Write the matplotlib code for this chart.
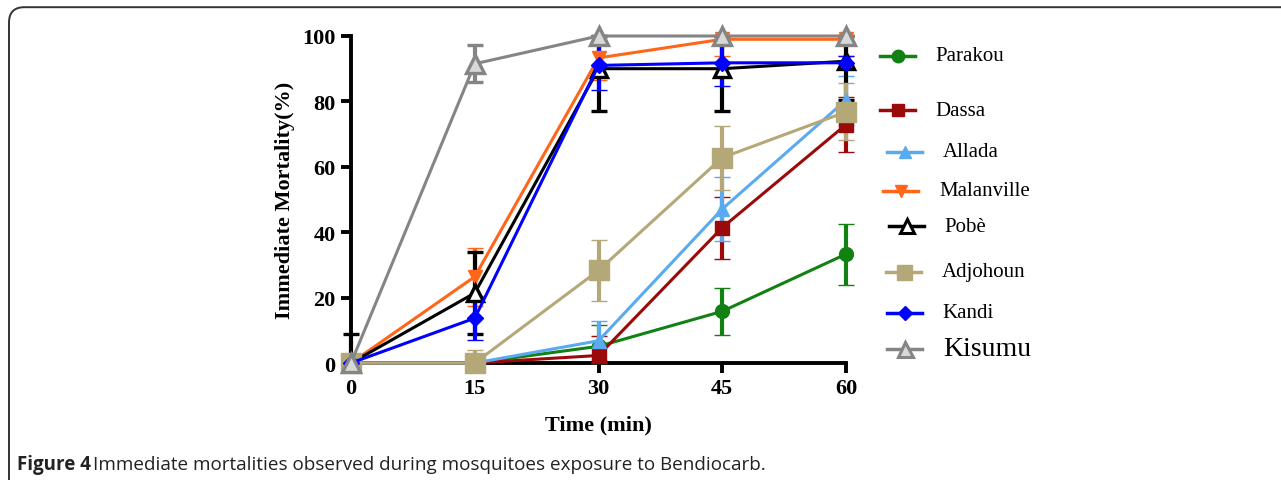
import numpy as np
import matplotlib.pyplot as plt
from matplotlib.patches import FancyBboxPatch
from matplotlib.lines import Line2D

# -------------------------------------------------
# Data
# -------------------------------------------------
times = [0, 15, 30, 45, 60]
sites = ["Parakou", "Dassa", "Allada", "Malanville", "Pobè", "Adjohoun", "Kandi", "Kisumu"]

parakou = [0, 0, 5.1, 15.8, 33.3]
parakou_err = [0, 0, 6.5, 7.2, 9.3]
dassa = [0, 0, 2.3, 41.4, 72.9]
dassa_err = [0, 0, 6.0, 9.5, 8.4]
allada = [0, 0, 6.8, 47.1, 80.4]
allada_err = [0, 0, 6.0, 9.7, 7.5]
malanville = [0, 26.4, 93.3, 99.0, 99.0]
malanville_err = [0, 8.9, 6.8, 5.0, 5.0]
pobe = [0, 21.4, 90.0, 90.0, 92.3]
pobe_err = [9.0, 12.6, 13.0, 13.0, 12.0]
adjohoun = [0, 0, 28.3, 62.8, 76.8]
adjohoun_err = [0, 4.0, 9.3, 9.8, 8.7]
kandi = [0, 13.7, 91.0, 91.8, 91.8]
kandi_err = [0, 6.7, 7.5, 7.0, 2.0]
kisumu = [0, 91.5, 100, 100, 100]
kisumu_err = [0, 5.7, 0, 0, 0]

series = [
    (parakou, parakou_err),
    (dassa, dassa_err),
    (allada, allada_err),
    (malanville, malanville_err),
    (pobe, pobe_err),
    (adjohoun, adjohoun_err),
    (kandi, kandi_err),
    (kisumu, kisumu_err),
]

# style per site: color, marker, marker size, face color
styles = [
    ("#138013", "o", 10, None),
    ("#9b0a0a", "s", 10, None),
    ("#5aaaf0", "^", 10, None),
    ("#ff6619", "v", 10, None),
    ("#000000", "^", 11, "white"),
    ("#b4a878", "s", 15, None),
    ("#0000ff", "D", 8, None),
    ("#858585", "^", 13, "#d8d8d8"),
]

# legend placement (pixels): handle start x, text x, row y
leg_hx = [880, 880, 887, 883, 889, 886, 887, 887]
leg_tx = [935, 935, 943, 939, 944, 942, 942, 943]
leg_y = [57, 111, 153, 192, 227, 273, 314, 350]

plt.rcParams["font.family"] = ["Liberation Serif", "DejaVu Serif"]

fig = plt.figure(figsize=(12.81, 4.81), dpi=100)

# rounded frame of the figure panel
frame = FancyBboxPatch(
    (9 / 1281, -0.2), 1.2, (469 + 100) / 481,
    boxstyle="round,pad=0,rounding_size=0.012",
    transform=fig.transFigure, fill=False, ec="#333333", lw=1.4,
    mutation_aspect=1281 / 481,
)
fig.patches.append(frame)

ax = fig.add_axes([351 / 1281, 1 - 364 / 481, (846 - 351) / 1281, (364 - 37) / 481])

for (vals, err), (col, mk, ms, fc) in zip(series, styles):
    v = np.array(vals, dtype=float)
    e = np.array(err, dtype=float)
    lo = np.minimum(e, v)          # bars do not go below 0
    hi = np.minimum(e, 100 - v)    # nor above 100
    ax.errorbar(
        times, v, yerr=[lo, hi],
        color=col, lw=2.2, marker=mk, ms=ms,
        mfc=fc if fc else col, mec=col, mew=2.4 if fc else 1,
        elinewidth=3, capsize=5.5, capthick=3.5, clip_on=False, zorder=3,
    )

ax.set_xlim(0, 60)
ax.set_ylim(0, 100)
ax.set_xticks(times)
ax.set_yticks([0, 20, 40, 60, 80, 100])
for s in ["top", "right"]:
    ax.spines[s].set_visible(False)
for s in ["left", "bottom"]:
    ax.spines[s].set_linewidth(2.8)
ax.tick_params(width=2.8, length=7, labelsize=16, pad=4)
for lab in ax.get_xticklabels() + ax.get_yticklabels():
    lab.set_fontweight("bold")
ax.set_xlabel("Time (min)", fontsize=16, fontweight="bold", labelpad=12)
ax.set_ylabel("Immediate Mortality(%)", fontsize=16, fontweight="bold", labelpad=5)

# legend drawn by hand to keep the uneven spacing
for name, (col, mk, ms, fc), hx, tx, y in zip(sites, styles, leg_hx, leg_tx, leg_y):
    yf = 1 - y / 481
    fig.add_artist(Line2D([hx / 1281, (hx + 35) / 1281], [yf, yf], color=col, lw=2.5,
                          transform=fig.transFigure))
    fig.add_artist(Line2D([(hx + 17.5) / 1281], [yf], marker=mk, ms=min(ms, 12) * 0.9,
                          color=col, mfc=fc if fc else col, mec=col, mew=2.2 if fc else 1,
                          transform=fig.transFigure))
    fig.text(tx / 1281, yf, name, fontsize=20 if name == "Kisumu" else 15,
             va="center", ha="left")

fig.text(17 / 1281, 1 - 465 / 481, "Figure 4", fontsize=13.5, fontweight="bold",
         family=["Open Sans", "DejaVu Sans"], va="center", color="#222222")
fig.text(93 / 1281, 1 - 465 / 481,
         "Immediate mortalities observed during mosquitoes exposure to Bendiocarb.",
         fontsize=13.6, family=["Open Sans", "DejaVu Sans"], va="center", color="#222222")

fig.savefig("out.png", dpi=100)
